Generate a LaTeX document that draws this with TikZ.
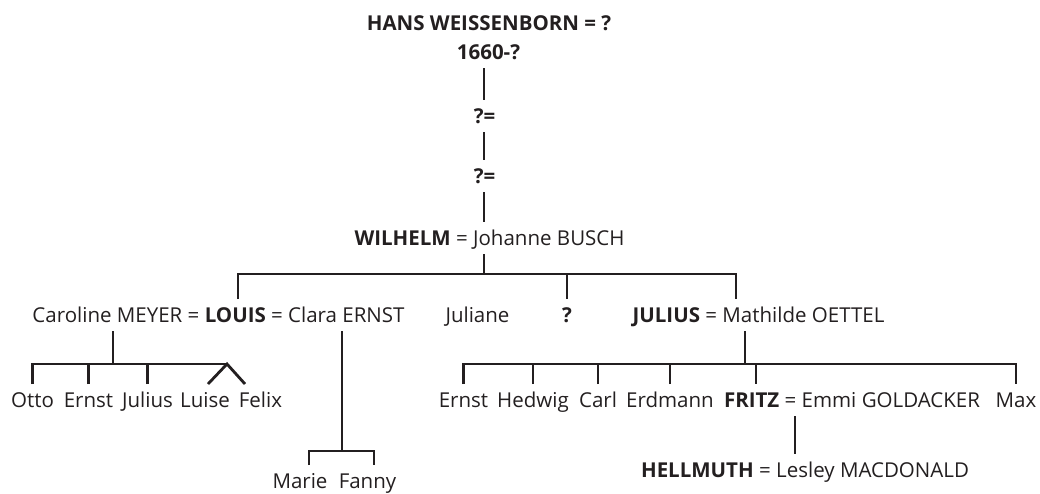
\documentclass[tikz,border=0pt]{standalone}
\usepackage{fontspec}
\setmainfont{Open Sans}
\newlength{\du}
\setlength{\du}{1pt}
\definecolor{treelinecolor}{rgb}{0.137255, 0.121569, 0.125490}
\tikzset{
  person/.style={anchor=base, inner sep=0pt, outer xsep=0pt, outer ysep=9\du,
    text height=14\du, text depth=0pt, text=treelinecolor,
    font=\fontsize{20.5}{22}\selectfont},
  kin/.style={line width=2.8\du, draw=treelinecolor},
}

\begin{document}
\begin{tikzpicture}
\pgftransformyscale{-1.000000}
\useasboundingbox (0\du,0\du) rectangle (1040\du,493\du);
% ancestors
\node[person] (hans) at (489\du,30\du){\textbf{HANS WEISSENBORN = ?}};
\node[person] (hansdates) at (488.5\du,59\du){\textbf{1660-?}};
\node[person] (anonone) at (484.5\du,123\du){\textbf{?=}};
\node[person] (anontwo) at (484.5\du,183\du){\textbf{?=}};
\node[person] (wilhelm) at (489.5\du,245\du){\textbf{WILHELM} = Johanne BUSCH};
% children of Wilhelm
\node[person] (louisrow) at (218.5\du,322\du){Caroline MEYER = \textbf{LOUIS} = Clara ERNST};
\node[person] (juliane) at (477.5\du,322\du){Juliane};
\node[person] (unknown) at (567\du,322\du){\textbf{?}};
\node[person] (juliusrow) at (758.5\du,322\du){\textbf{JULIUS} = Mathilde OETTEL};
% children of Louis
\node[person] (otto) at (32.5\du,407\du){Otto};
\node[person] (ernstl) at (88.5\du,407\du){Ernst};
\node[person] (juliusl) at (147.5\du,407\du){Julius};
\node[person] (luise) at (205\du,407\du){Luise};
\node[person] (felix) at (260.5\du,407\du){Felix};
\node[person] (marie) at (300\du,488\du){Marie};
\node[person] (fanny) at (367.5\du,488\du){Fanny};
% children of Julius
\node[person] (ernstr) at (463.5\du,407\du){Ernst};
\node[person] (hedwig) at (533\du,407\du){Hedwig};
\node[person] (carl) at (598\du,407\du){Carl};
\node[person] (erdmann) at (670\du,407\du){Erdmann};
\node[person] (fritzrow) at (852\du,407\du){\textbf{FRITZ} = Emmi GOLDACKER};
\node[person] (maxw) at (1016\du,407\du){Max};
\node[person] (hellmuth) at (805\du,477\du){\textbf{HELLMUTH} = Lesley MACDONALD};
% junctions
\coordinate (trunk) at (484\du,0\du);
\coordinate (wj) at (484\du,274\du);
\coordinate (dl) at (238\du,274\du);
\coordinate (dj) at (736\du,274\du);
\coordinate (cj) at (113\du,364\du);
\coordinate (twin) at (227\du,364\du);
\coordinate (kj) at (342\du,451\du);
\coordinate (km) at (309\du,451\du);
\coordinate (kf) at (374\du,451\du);
\coordinate (mj) at (745\du,364\du);
\coordinate (fj) at (756\du,364\du);
\coordinate (hj) at (795\du,0\du);
% male line
\draw[kin] (trunk |- hansdates.south) -- (trunk |- anonone.north);
\draw[kin] (trunk |- anonone.south) -- (trunk |- anontwo.north);
\draw[kin] (trunk |- anontwo.south) -- (trunk |- wilhelm.north);
\draw[kin] (wj |- wilhelm.south) -- (wj);
\draw[kin] (dl |- louisrow.north) -- (dl) -- (dj) -- (dj |- juliusrow.north);
\draw[kin] (unknown.north |- wj) -- (unknown.north);
% Louis = Caroline
\draw[kin] (cj |- louisrow.south) -- (cj);
\draw[kin] (otto.north) |- (twin);
\draw[kin] (ernstl.north) -- (ernstl.north |- cj);
\draw[kin] (juliusl.north) -- (juliusl.north |- cj);
\draw[kin] (twin) ++(-19\du,20\du) -- (twin) -- ++(18\du,20\du);
% Louis = Clara
\draw[kin] (kj |- louisrow.south) -- (kj);
\draw[kin] (km |- marie.north) -- (km) -- (kf) -- (kf |- fanny.north);
% Julius = Mathilde
\draw[kin] (mj |- juliusrow.south) -- (mj);
\draw[kin] (ernstr.north) |- (mj) -| (maxw.north);
\draw[kin] (hedwig.north) -- (hedwig.north |- mj);
\draw[kin] (carl.north) -- (carl.north |- mj);
\draw[kin] (erdmann.north) -- (erdmann.north |- mj);
\draw[kin] (fj) -- (fj |- fritzrow.north);
% Fritz = Emmi
\draw[kin] (hj |- fritzrow.south) -- (hj |- hellmuth.north);
\end{tikzpicture}
\end{document}
